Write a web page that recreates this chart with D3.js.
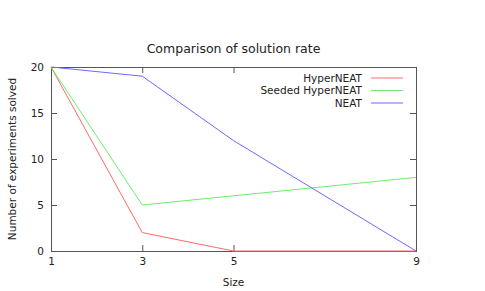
<!DOCTYPE html>
<html>
<head>
<meta charset="utf-8">
<script src="https://cdn.jsdelivr.net/npm/d3@7"></script>
<style>
  body { margin: 0; background: #fff; }
  text { font-family: "DejaVu Sans", sans-serif; font-size: 10.5px; fill: #222; }
</style>
</head>
<body>
<div id="chart"></div>
<script>
var svgWidth = 485;
var svgHeight = 291;

var margin = { top: 67, bottom: 40, right: 69, left: 51 };
var width = svgWidth - margin.left - margin.right;
var height = svgHeight - margin.top - margin.bottom;

// data
var sizes = [1, 3, 5, 9];
var hyperneat = [20, 2, 0, 0];
var seededHyperneat = [20, 5, 6, 8];
var neat = [20, 19, 12, 0];
var yTicks = [0, 5, 10, 15, 20];
var seriesNames = ["HyperNEAT", "Seeded HyperNEAT", "NEAT"];
var seriesColors = ["#ff6a6a", "#6aee6a", "#6a6aff"];

var svg = d3.select("#chart")
    .append("svg")
    .attr("width", svgWidth)
    .attr("height", svgHeight);

var chartGroup = svg.append("g")
    .attr("transform", `translate(${margin.left}, ${margin.top})`);

var xScale = d3.scaleLinear().domain([1, 9]).range([0, width]);
var yScale = d3.scaleLinear().domain([0, 20]).range([height, 0]);

// axes with inward ticks, mirrored on top/right like gnuplot
var bottomAxis = d3.axisBottom(xScale).tickValues(sizes).tickSize(-6).tickPadding(7);
var topAxis = d3.axisTop(xScale).tickValues(sizes).tickSize(-6).tickFormat("");
var leftAxis = d3.axisLeft(yScale).tickValues(yTicks).tickSize(-6).tickPadding(7);
var rightAxis = d3.axisRight(yScale).tickValues(yTicks).tickSize(-6).tickFormat("");

chartGroup.append("g").attr("transform", `translate(0, ${height})`).call(bottomAxis);
chartGroup.append("g").call(topAxis);
chartGroup.append("g").call(leftAxis);
chartGroup.append("g").attr("transform", `translate(${width}, 0)`).call(rightAxis);

chartGroup.selectAll(".domain").attr("stroke", "#555");
chartGroup.selectAll(".tick line").attr("stroke", "#555");
chartGroup.selectAll(".tick text").attr("fill", "#222");

var allSeries = [hyperneat, seededHyperneat, neat];

var line = d3.line()
    .x((d, i) => xScale(sizes[i]))
    .y(d => yScale(d));

chartGroup.selectAll("path.series")
    .data(allSeries)
    .enter()
    .append("path")
    .classed("series", true)
    .attr("d", d => line(d))
    .attr("fill", "none")
    .attr("stroke", (d, i) => seriesColors[i])
    .attr("stroke-width", 1);

// legend
var legend = chartGroup.append("g")
    .attr("transform", `translate(${width - 54}, 11)`);

seriesNames.forEach(function(name, i) {
    var row = legend.append("g").attr("transform", `translate(0, ${i * 12.5})`);
    row.append("text")
        .attr("x", 0)
        .attr("y", 0)
        .attr("dy", "0.35em")
        .style("text-anchor", "end")
        .text(name);
    row.append("line")
        .attr("x1", 9)
        .attr("x2", 41)
        .attr("y1", 0)
        .attr("y2", 0)
        .attr("stroke", seriesColors[i])
        .attr("stroke-width", 1);
});

// titles
svg.append("text")
    .attr("x", margin.left + width / 2)
    .attr("y", 53)
    .style("text-anchor", "middle")
    .style("font-size", "12.5px")
    .text("Comparison of solution rate");

svg.append("text")
    .attr("x", margin.left + width / 2)
    .attr("y", 285.5)
    .style("text-anchor", "middle")
    .text("Size");

svg.append("text")
    .attr("transform", `translate(12, ${margin.top + height / 2}) rotate(-90)`)
    .attr("dy", "0.35em")
    .style("text-anchor", "middle")
    .text("Number of experiments solved");
</script>
</body>
</html>
